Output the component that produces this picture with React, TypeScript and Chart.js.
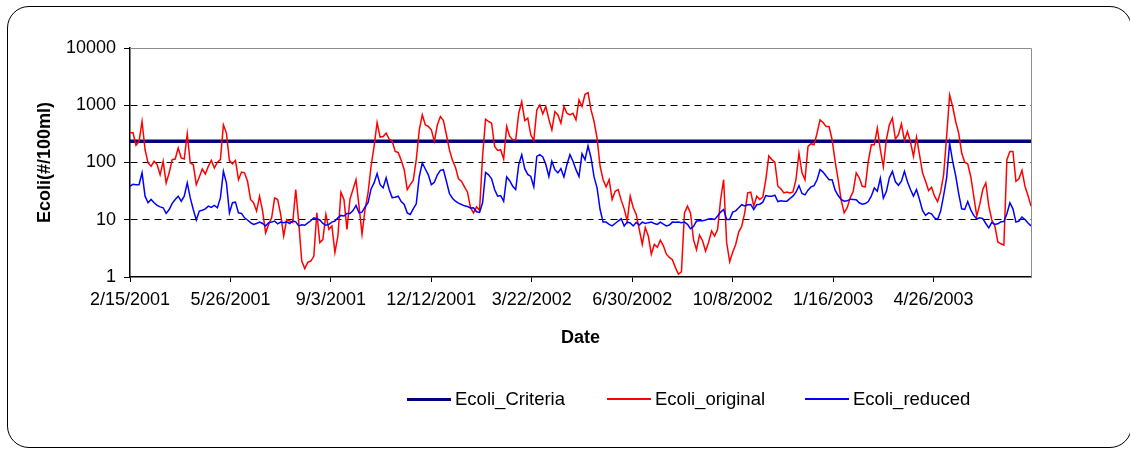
import React, { useEffect, useRef } from "react";
import { Chart, registerables } from "chart.js";

Chart.register(...registerables);

// ---- data ----
const SAMPLE_STEP_DAYS = 3; // one reading every 3 days, starting 2/15/2001
const LAST_DAY = 897;
const criteriaValue = 235;

const xTickDays = [0, 100, 200, 300, 400, 500, 600, 700, 800];
const xTickLabels = [
  "2/15/2001", "5/26/2001", "9/3/2001", "12/12/2001", "3/22/2002",
  "6/30/2002", "10/8/2002", "1/16/2003", "4/26/2003",
];
const yTickValues = [1, 10, 100, 1000, 10000];
const yTickLabels = ["1", "10", "100", "1000", "10000"];

const seriesNames = ["Ecoli_Criteria", "Ecoli_original", "Ecoli_reduced"];
const seriesColors = ["#000080", "#FF0000", "#0000FF"];

const ecoliOriginal = [
  330, 330, 200, 234, 520, 167, 98, 86, 105, 92,
  61, 105, 44, 66, 112, 115, 179, 120, 115, 318,
  98, 92, 41, 56, 77, 63, 86, 109, 80, 101,
  112, 455, 326, 108, 95, 109, 50, 68, 66, 47,
  22.6, 19.8, 14.2, 25.8, 14.2, 5.9, 8.3, 10.8, 24.1, 22.6,
  12.4, 5.2, 10.1, 9.5, 8.9, 33.7, 8.9, 1.9, 1.4, 1.8,
  1.9, 2.3, 13.2, 4.0, 4.5, 12.4, 6.8, 7.8, 2.7, 5.2,
  30.3, 22.6, 6.8, 23, 33.7, 50, 17.3, 5.6, 15.1, 29.5,
  86, 191, 500, 278, 285, 326, 257, 237, 156, 150,
  109, 75, 33.7, 41, 49, 112, 372, 679, 455, 426,
  372, 234, 455, 635, 540, 305, 167, 109, 83, 52,
  47, 37.5, 30.3, 16.2, 13.2, 16.8, 14.6, 128, 570, 520,
  486, 191, 162, 167, 115, 426, 285, 250, 250, 726,
  1160, 540, 594, 305, 243, 830, 1010, 706, 950, 570,
  372, 776, 679, 486, 950, 726, 679, 726, 556, 1240,
  950, 1550, 1660, 830, 520, 267, 86, 50, 37.5, 50,
  22.6, 31.5, 33.7, 22, 15.5, 9.5, 25.8, 16.2, 12.4, 6.8,
  3.7, 7.3, 5.2, 2.5, 3.7, 3.3, 4.4, 3.5, 2.5, 2.2,
  2.0, 1.46, 1.12, 1.23, 13.2, 17.3, 13.2, 4.5, 3.0, 5.4,
  4.3, 2.85, 4.0, 6.4, 5.2, 6.8, 22.6, 50, 4.0, 1.84,
  2.7, 3.7, 6.1, 7.7, 13.2, 29.5, 30.3, 17.3, 25.8, 22.6,
  25, 50, 131, 112, 101, 38.5, 34.6, 29.5, 30.6, 29.5,
  30.6, 50, 146, 66, 50, 191, 213, 204, 326, 556,
  500, 426, 426, 250, 105, 50, 22, 13.2, 16.2, 24.1,
  31.5, 66, 54, 38.5, 37.5, 105, 204, 204, 398, 167,
  84, 250, 455, 594, 257, 305, 474, 243, 348, 228,
  128, 278, 137, 66, 47, 32.5, 37, 25.8, 20.8, 30.6,
  61, 285, 1510, 950, 520, 326, 146, 101, 95, 57,
  25.8, 11.6, 18.5, 33.7, 44, 17.3, 9.9, 7.8, 4.1, 3.8,
  3.6, 112, 156, 156, 47, 52, 73, 38.5, 26.5, 17.3,
];

const ecoliReduced = [
  38.5, 41.6, 41, 41, 66, 25.8, 19.8, 22.6, 19.8, 17.8,
  16.8, 16.2, 12.9, 15.1, 19.3, 22.6, 25.8, 21.1, 25.8, 44,
  24.1, 15.1, 9.9, 14.2, 14.7, 15.5, 17.3, 16.4, 17.8, 16.2,
  24.1, 70, 44, 13.2, 19.8, 20.3, 13.2, 12.9, 10.8, 9.9,
  8.9, 8.3, 8.6, 9.1, 8.6, 7.8, 8.9, 9.1, 9.5, 8.5,
  9.1, 8.9, 9.2, 8.6, 9.5, 9.2, 7.8, 8.2, 8.0, 8.8,
  9.6, 10.8, 10.4, 9.9, 8.6, 8.0, 8.3, 9.1, 9.5, 10.8,
  11.9, 11.6, 12.9, 12.9, 14.5, 17.8, 13.2, 13.6, 16.8, 19.8,
  34.6, 44, 64, 41, 36, 54, 33.7, 24.4, 24.8, 25.8,
  20.8, 18.5, 13.2, 12.4, 15.5, 19, 57, 98, 77, 61,
  41, 45, 61, 73, 75, 47, 28.7, 23.8, 21.1, 19.5,
  18.5, 17.5, 17, 16, 16.2, 13.8, 13.4, 19.8, 67, 61,
  52, 33.7, 25.8, 26.5, 21.1, 56, 48, 38.5, 33.7, 92,
  137, 78, 62, 57, 37.5, 128, 137, 125, 92, 57,
  105, 75, 66, 78, 56, 92, 137, 105, 75, 57,
  142, 112, 196, 120, 56, 36, 15.1, 9.1, 9.1, 8.3,
  7.8, 8.6, 9.5, 10.4, 7.8, 9.1, 8.8, 7.8, 9.0, 8.1,
  9.1, 8.6, 8.9, 9.1, 8.6, 8.3, 9.1, 8.4, 7.8, 8.1,
  9.1, 9.0, 9.1, 8.9, 9.1, 8.3, 7.0, 7.6, 9.5, 9.6,
  9.6, 9.9, 10.3, 10.4, 10.1, 11.6, 13.6, 15.1, 10.1, 10.1,
  13.6, 14.3, 16.2, 18.3, 17.5, 18.3, 18.5, 15.1, 18.3, 18.7,
  20.3, 26.5, 25.8, 25.8, 26.8, 20.8, 21.4, 21.1, 21.1, 23.5,
  25.8, 30.3, 39.5, 28.7, 27.2, 32.8, 37.5, 39.5, 50, 75,
  68, 58, 50, 50, 32.8, 26.5, 22.6, 21.1, 21.4, 22.9,
  22.6, 22.3, 19.8, 18.7, 19.2, 20.8, 25.8, 36, 31.5, 53,
  23.8, 31, 54, 70, 46, 40, 47, 70, 46, 33.7,
  25.8, 33.7, 22.6, 14.5, 11.9, 13.2, 12.7, 10.8, 10.1, 14,
  26.5, 54, 218, 105, 59, 28.7, 15.5, 15.1, 20.8, 14.9,
  11.9, 10.4, 10.8, 10.5, 8.6, 7.2, 9.0, 8.3, 8.5, 9.2,
  9.3, 12.7, 19.8, 15.5, 9.1, 9.5, 11.1, 10.1, 8.8, 7.8,
];

const sampleDays = ecoliOriginal.map((_, i) => i * SAMPLE_STEP_DAYS);

const FONT = '"Liberation Sans", Arial, Helvetica, sans-serif';

const plotFrame = {
  id: "plotFrame",
  beforeDatasetsDraw(chart: any) {
    const { ctx, chartArea: a } = chart;
    ctx.save();
    ctx.strokeStyle = "#8c8c8c";
    ctx.lineWidth = 1;
    ctx.beginPath();
    ctx.moveTo(a.left, Math.round(a.top) + 0.5);
    ctx.lineTo(Math.round(a.right) + 0.5, Math.round(a.top) + 0.5);
    ctx.lineTo(Math.round(a.right) + 0.5, a.bottom);
    ctx.stroke();
    ctx.restore();
  },
};

export default function App() {
  const canvasRef = useRef<HTMLCanvasElement | null>(null);

  useEffect(() => {
    const canvas = canvasRef.current;
    if (!canvas) return;
    const toPoints = (vals: number[]) => vals.map((v, i) => ({ x: sampleDays[i], y: v }));
    const chart = new Chart(canvas, {
      type: "line",
      data: {
        datasets: [
          {
            label: seriesNames[0],
            data: [
              { x: 0, y: criteriaValue },
              { x: LAST_DAY, y: criteriaValue },
            ],
            borderColor: seriesColors[0],
            backgroundColor: seriesColors[0],
            borderWidth: 3.5,
            pointRadius: 0,
            tension: 0,
            order: 3,
          },
          {
            label: seriesNames[1],
            data: toPoints(ecoliOriginal),
            borderColor: seriesColors[1],
            backgroundColor: seriesColors[1],
            borderWidth: 1.5,
            pointRadius: 0,
            tension: 0,
            order: 2,
          },
          {
            label: seriesNames[2],
            data: toPoints(ecoliReduced),
            borderColor: seriesColors[2],
            backgroundColor: seriesColors[2],
            borderWidth: 1.5,
            pointRadius: 0,
            tension: 0,
            order: 1,
          },
        ],
      },
      options: {
        animation: false,
        responsive: false,
        maintainAspectRatio: false,
        events: [],
        layout: { padding: { left: 0, top: 48, right: 99, bottom: 99 } },
        plugins: {
          legend: { display: false },
          tooltip: { enabled: false },
        },
        scales: {
          x: {
            type: "linear",
            min: 0,
            max: LAST_DAY,
            afterBuildTicks: (s: any) => {
              s.ticks = xTickDays.map((v) => ({ value: v }));
            },
            afterFit: (s: any) => {
              s.height = 76;
            },
            ticks: {
              autoSkip: false,
              maxRotation: 0,
              minRotation: 0,
              padding: 7,
              color: "#000",
              font: { family: FONT, size: 18 },
              callback: (v: any) => {
                const idx = xTickDays.indexOf(Number(v));
                return idx >= 0 ? xTickLabels[idx] : "";
              },
            },
            grid: {
              drawOnChartArea: false,
              drawTicks: true,
              tickLength: 5,
              tickColor: "#000",
              color: "#000",
            },
            border: { color: "#000", width: 1.5 },
            title: {
              display: true,
              text: "Date",
              color: "#000",
              font: { family: FONT, size: 18, weight: "bold" },
              padding: { top: 0, bottom: 4 },
            },
          },
          y: {
            type: "logarithmic",
            min: 1,
            max: 10000,
            afterBuildTicks: (s: any) => {
              s.ticks = yTickValues.map((v) => ({ value: v }));
            },
            afterFit: (s: any) => {
              s.width = 130;
            },
            ticks: {
              autoSkip: false,
              padding: 8,
              color: "#000",
              font: { family: FONT, size: 18 },
              callback: (v: any) => {
                const idx = yTickValues.indexOf(Number(v));
                return idx >= 0 ? yTickLabels[idx] : "";
              },
            },
            grid: {
              drawTicks: true,
              tickLength: 6,
              tickColor: "#000",
              lineWidth: 1,
              color: (ctx: any) => {
                const v = ctx.tick ? ctx.tick.value : null;
                return v === 10 || v === 100 || v === 1000 ? "#000" : "rgba(0,0,0,0)";
              },
            },
            border: { color: "#000", width: 1.5, dash: [7, 5] },
            title: {
              display: true,
              text: "Ecoli(#/100ml)",
              color: "#000",
              font: { family: FONT, size: 18, weight: "bold" },
              padding: { top: 34, bottom: 0 },
            },
          },
        },
      },
      plugins: [plotFrame],
    } as any);
    return () => chart.destroy();
  }, []);

  const legendItems = [
    { left: 407, lineH: 3 },
    { left: 607, lineH: 2 },
    { left: 805, lineH: 2 },
  ];

  return (
    <div
      style={{
        position: "fixed",
        left: 0,
        top: 0,
        width: 1130,
        height: 452,
        overflow: "hidden",
        background: "#fff",
        fontFamily: FONT,
      }}
    >
      <div
        style={{
          position: "absolute",
          left: 7,
          top: 6,
          width: 1125,
          height: 442,
          boxSizing: "border-box",
          border: "1.5px solid #000",
          borderRadius: 22,
        }}
      />
      <canvas
        ref={canvasRef}
        width={1130}
        height={452}
        style={{ position: "absolute", left: 0, top: 0, width: 1130, height: 452 }}
      />
      {legendItems.map((it, i) => (
        <div
          key={seriesNames[i]}
          style={{
            position: "absolute",
            left: it.left,
            top: 388,
            height: 22,
            display: "flex",
            alignItems: "center",
            whiteSpace: "nowrap",
          }}
        >
          <span
            style={{
              display: "inline-block",
              width: 44,
              height: it.lineH,
              background: seriesColors[i],
              marginRight: 4,
            }}
          />
          <span style={{ fontSize: 18.5, color: "#000" }}>{seriesNames[i]}</span>
        </div>
      ))}
    </div>
  );
}
